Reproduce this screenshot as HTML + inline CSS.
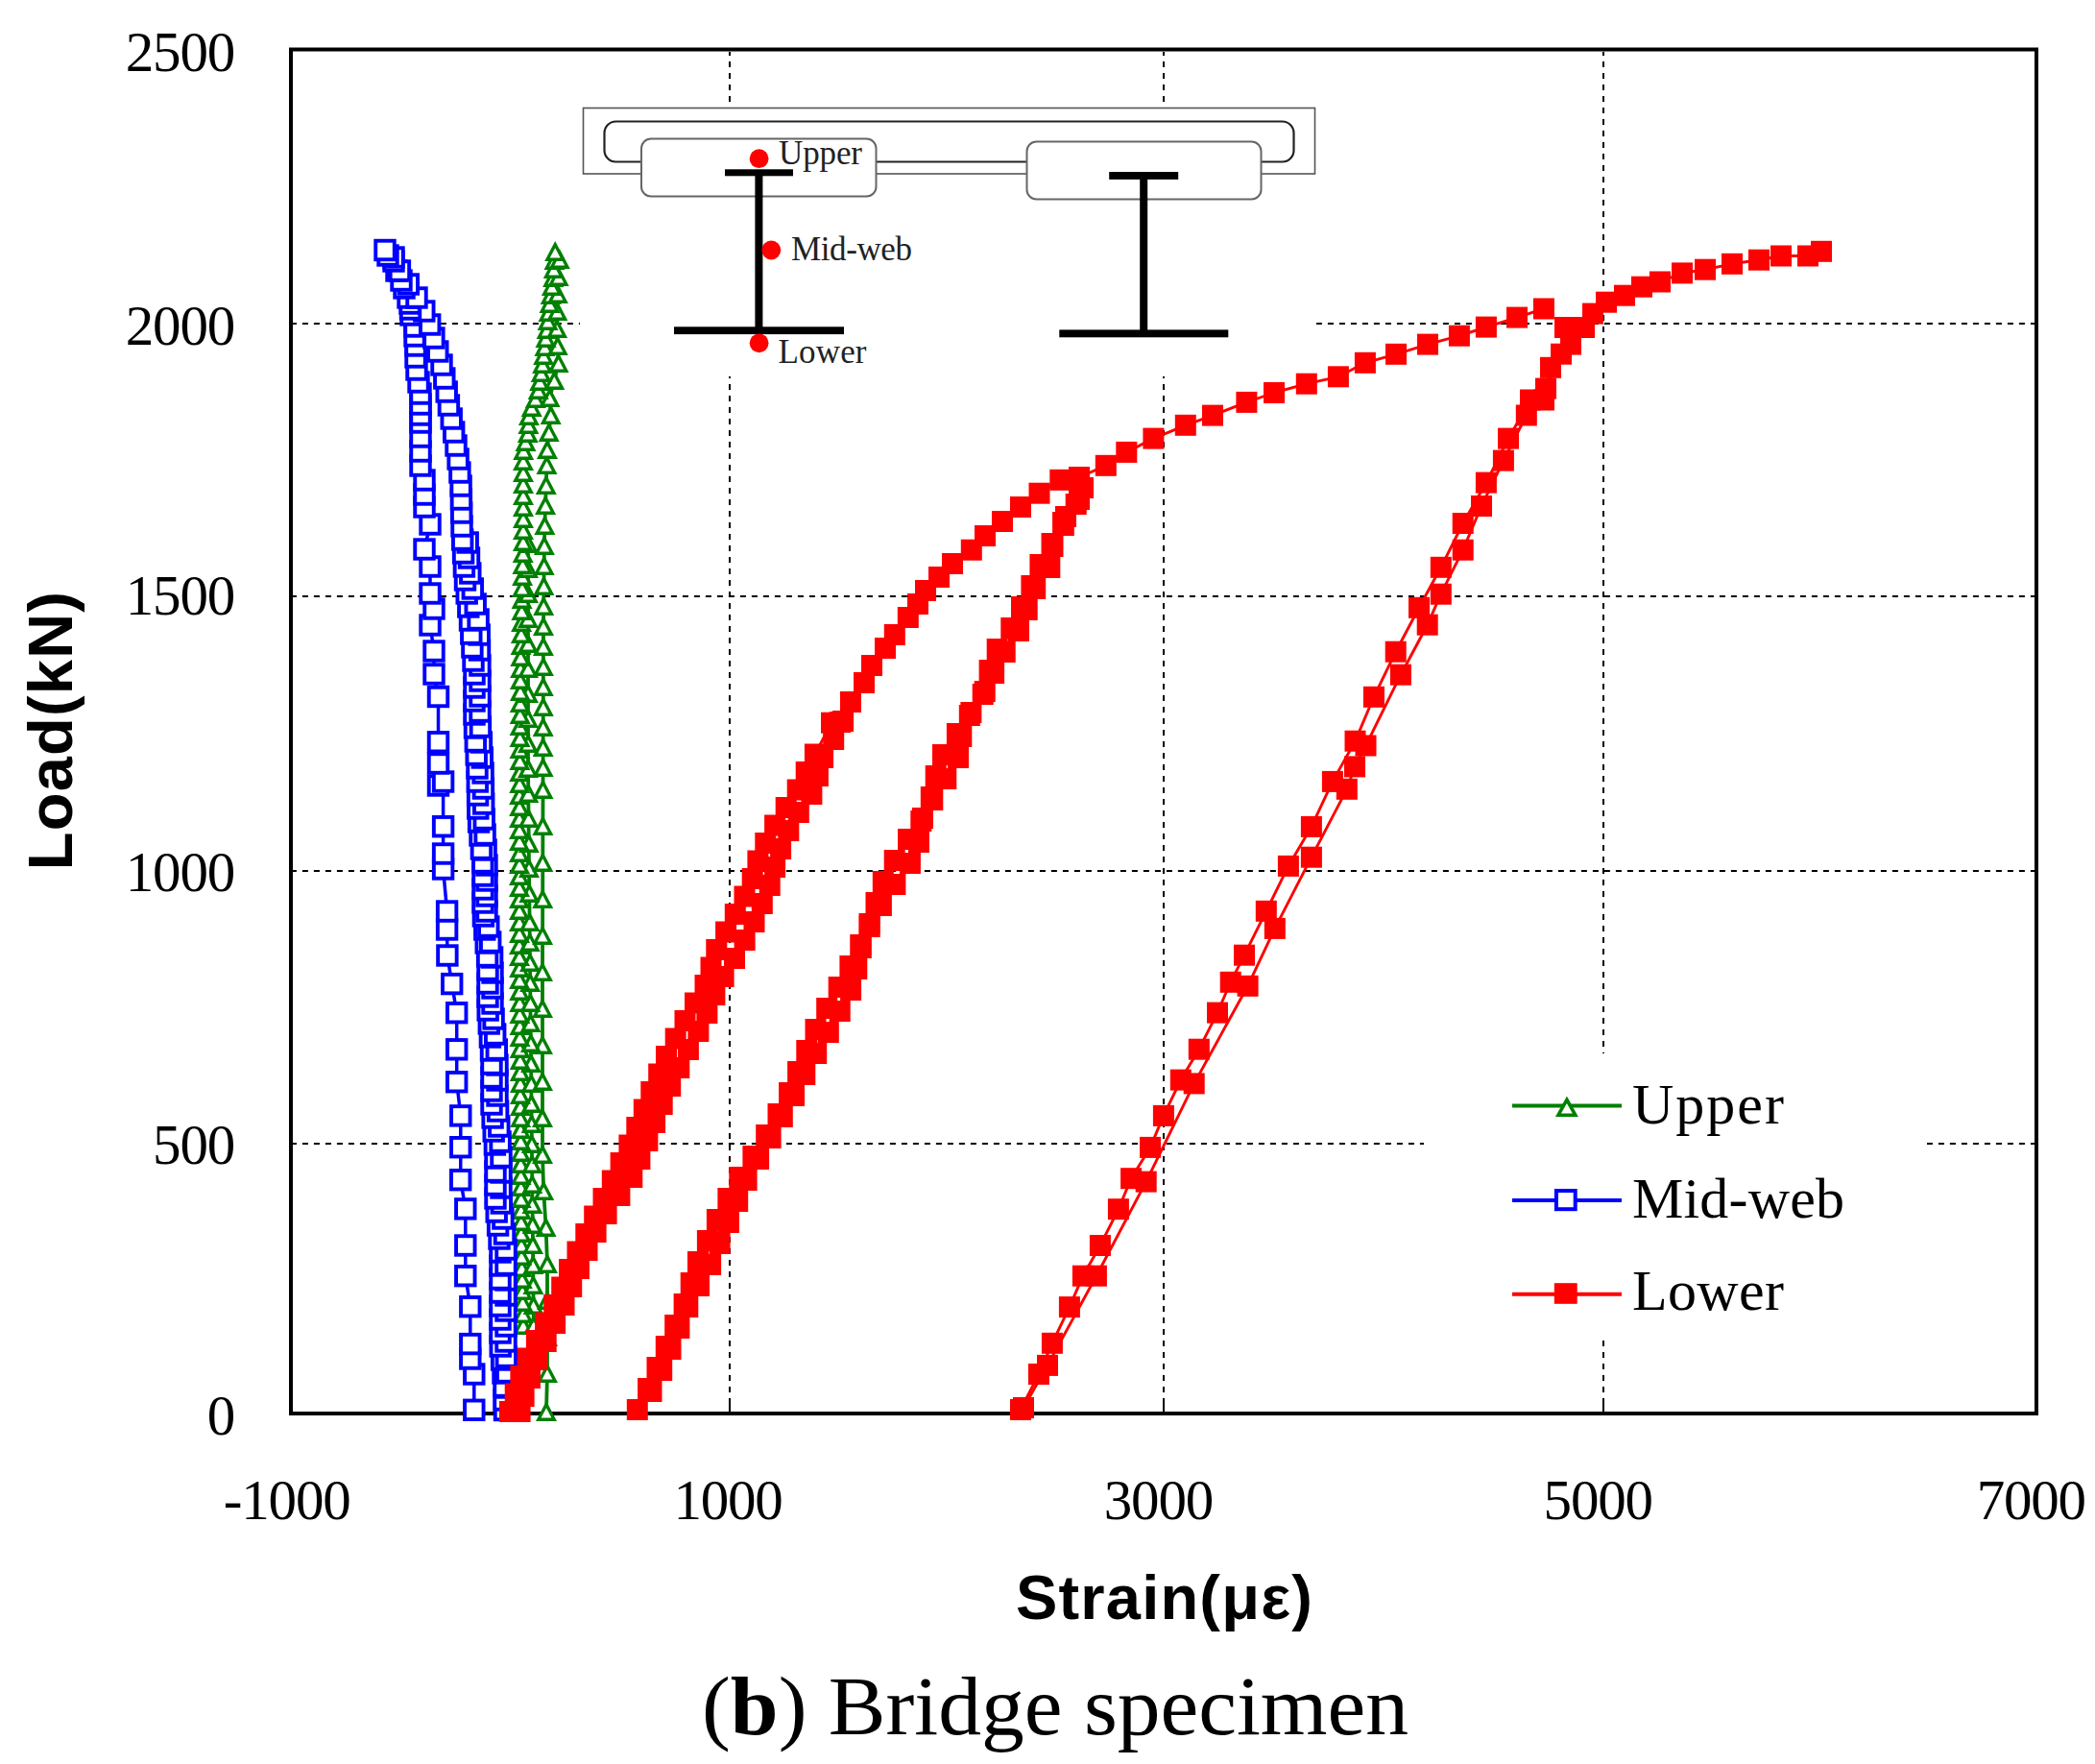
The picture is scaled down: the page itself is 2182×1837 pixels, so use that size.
<!DOCTYPE html><html><head><meta charset="utf-8"><title>Bridge specimen strain</title>
<style>html,body{margin:0;padding:0;background:#fff;overflow:hidden;}svg{display:block;}.ser{font-family:"Liberation Serif","Times New Roman",serif;}.sans{font-family:"Liberation Sans",Arial,sans-serif;font-weight:bold;}</style></head><body>
<svg width="2182" height="1837" viewBox="0 0 2182 1837">
<rect x="0" y="0" width="2182" height="1837" fill="#fff"/>
<g stroke="#000" stroke-width="2" stroke-dasharray="6 6" stroke-dashoffset="2.1" fill="none">
<line x1="760" y1="54" x2="760" y2="1470"/>
<line x1="1212" y1="54" x2="1212" y2="1470"/>
<line x1="1670" y1="54" x2="1670" y2="1470"/>
<line x1="305" y1="337" x2="2119" y2="337"/>
<line x1="305" y1="621" x2="2119" y2="621"/>
<line x1="305" y1="907" x2="2119" y2="907"/>
<line x1="305" y1="1191" x2="2119" y2="1191"/>
</g>
<g stroke="#000" stroke-width="2">
<line x1="760" y1="1456" x2="760" y2="1471"/>
<line x1="1212" y1="1456" x2="1212" y2="1471"/>
<line x1="1670" y1="1456" x2="1670" y2="1471"/>
</g>
<rect x="604" y="112" width="767" height="280" fill="#fff"/>
<rect x="1483" y="1097" width="524" height="299" fill="#fff"/>
<defs><rect id="bs" x="-9.75" y="-9.75" width="19.5" height="19.5" fill="#fff" stroke="#0000ff" stroke-width="3.9"/><g id="gt"><path d="M0 -11L-11 10H11Z" fill="#008000"/><path d="M0 -3.7L-5.4 6.6H5.4Z" fill="#fff"/></g><clipPath id="pc"><rect x="305" y="53.5" width="1814" height="1416.5"/></clipPath></defs>
<rect x="303" y="51.5" width="1818" height="1420.5" fill="none" stroke="#000" stroke-width="4"/>
<g>
<polyline points="578.2,262 577.5,271 576.8,280 576.1,289 574.9,298 573.7,307 572.5,316 571.5,325 570.6,334 569.6,343 568.5,352 567.4,361 566.2,370 565.1,379 563.7,388 562.2,397 560.7,406 557.8,415 553.7,424 550.9,433 550.4,442 549.8,451 547.5,460 545.2,469 545,480 545,492 545,504 545,516 545,528 545,540 545,552 544.9,564 544.7,576 544.4,588 544.1,600 543.9,612 543.6,624 543.4,636 543.1,648 542.9,660 542.6,672 542.3,684 542.1,696 541.9,708 541.9,720 541.8,732 541.7,744 541.6,756 541.5,768 541.5,780 541.4,792 541.3,804 541.2,816 541.1,828 541.1,840 541,852 541,864 541,876 541,888 541,900 541,912 541,924 541,936 541,948 541,960 541,972 541,984 541,996 541.1,1008 541.1,1020 541.2,1032 541.3,1044 541.4,1056 541.5,1068 541.5,1080 541.6,1092 541.7,1104 541.8,1116 541.9,1128 541.9,1140 542,1152 542.1,1164 542.2,1176 542.3,1188 542.3,1200 542.4,1212 542.5,1224 542.6,1236 542.7,1248 542.7,1260 542.8,1272 542.9,1284 543,1296 543.2,1308 543.5,1320 543.8,1332 544.1,1344 544.4,1356 544.7,1368 545,1380" fill="none" stroke="#008000" stroke-width="3.8" stroke-linejoin="round"/>
<polyline points="582.8,270 581.7,288 580.9,306 580.4,324 580.1,342 580.8,360 581.6,378 577.3,396 572.6,414 573.7,432 571.7,450 570,468 569.5,484 568.8,505 568.1,526 567.4,547 566.9,568 566.7,589 566.4,610 566.2,631 566,652 565.9,673 565.9,694 565.8,715 565.8,736 565.7,757 565.6,778 565.6,799 565.5,822 565.4,860 565.3,898 565.2,936 565.1,974 565,1012 565,1050 565,1088 565,1126 565,1164 565,1202 566.2,1240 568.6,1278 570,1316 570,1354 570,1392 570,1430 569,1470" fill="none" stroke="#008000" stroke-width="3.8" stroke-linejoin="round"/>
<polyline points="550,566 550,592 550,618 550,644 550,670 550,696 550,722 550,748 550,774 550,800 550.3,826 550.5,852 550.8,878 551,904 551.3,930 551.6,960 551.8,981 552,1002 552.2,1023 552.4,1044 552.6,1065 552.9,1086 553.1,1107 553.3,1128 553.5,1149 553.7,1170 553.9,1191 554.1,1212 554.3,1233 554.5,1254 554.8,1275 555,1296 555.2,1317 555.4,1338 555.6,1359 555.8,1380" fill="none" stroke="#008000" stroke-width="3.8" stroke-linejoin="round"/>
<use href="#gt" x="569" y="1470"/>
<use href="#gt" x="570" y="1430"/>
<use href="#gt" x="570" y="1392"/>
<use href="#gt" x="545" y="1380"/>
<use href="#gt" x="555.8" y="1380"/>
<use href="#gt" x="544.7" y="1368"/>
<use href="#gt" x="555.6" y="1359"/>
<use href="#gt" x="544.4" y="1356"/>
<use href="#gt" x="570" y="1354"/>
<use href="#gt" x="544.1" y="1344"/>
<use href="#gt" x="555.4" y="1338"/>
<use href="#gt" x="543.8" y="1332"/>
<use href="#gt" x="543.5" y="1320"/>
<use href="#gt" x="555.2" y="1317"/>
<use href="#gt" x="570" y="1316"/>
<use href="#gt" x="543.2" y="1308"/>
<use href="#gt" x="543" y="1296"/>
<use href="#gt" x="555" y="1296"/>
<use href="#gt" x="542.9" y="1284"/>
<use href="#gt" x="568.6" y="1278"/>
<use href="#gt" x="554.8" y="1275"/>
<use href="#gt" x="542.8" y="1272"/>
<use href="#gt" x="542.7" y="1260"/>
<use href="#gt" x="554.5" y="1254"/>
<use href="#gt" x="542.7" y="1248"/>
<use href="#gt" x="566.2" y="1240"/>
<use href="#gt" x="542.6" y="1236"/>
<use href="#gt" x="554.3" y="1233"/>
<use href="#gt" x="542.5" y="1224"/>
<use href="#gt" x="542.4" y="1212"/>
<use href="#gt" x="554.1" y="1212"/>
<use href="#gt" x="565" y="1202"/>
<use href="#gt" x="542.3" y="1200"/>
<use href="#gt" x="553.9" y="1191"/>
<use href="#gt" x="542.3" y="1188"/>
<use href="#gt" x="542.2" y="1176"/>
<use href="#gt" x="553.7" y="1170"/>
<use href="#gt" x="542.1" y="1164"/>
<use href="#gt" x="565" y="1164"/>
<use href="#gt" x="542" y="1152"/>
<use href="#gt" x="553.5" y="1149"/>
<use href="#gt" x="541.9" y="1140"/>
<use href="#gt" x="541.9" y="1128"/>
<use href="#gt" x="553.3" y="1128"/>
<use href="#gt" x="565" y="1126"/>
<use href="#gt" x="541.8" y="1116"/>
<use href="#gt" x="553.1" y="1107"/>
<use href="#gt" x="541.7" y="1104"/>
<use href="#gt" x="541.6" y="1092"/>
<use href="#gt" x="565" y="1088"/>
<use href="#gt" x="552.9" y="1086"/>
<use href="#gt" x="541.5" y="1080"/>
<use href="#gt" x="541.5" y="1068"/>
<use href="#gt" x="552.6" y="1065"/>
<use href="#gt" x="541.4" y="1056"/>
<use href="#gt" x="565" y="1050"/>
<use href="#gt" x="541.3" y="1044"/>
<use href="#gt" x="552.4" y="1044"/>
<use href="#gt" x="541.2" y="1032"/>
<use href="#gt" x="552.2" y="1023"/>
<use href="#gt" x="541.1" y="1020"/>
<use href="#gt" x="565" y="1012"/>
<use href="#gt" x="541.1" y="1008"/>
<use href="#gt" x="552" y="1002"/>
<use href="#gt" x="541" y="996"/>
<use href="#gt" x="541" y="984"/>
<use href="#gt" x="551.8" y="981"/>
<use href="#gt" x="565.1" y="974"/>
<use href="#gt" x="541" y="972"/>
<use href="#gt" x="541" y="960"/>
<use href="#gt" x="551.6" y="960"/>
<use href="#gt" x="541" y="948"/>
<use href="#gt" x="541" y="936"/>
<use href="#gt" x="565.2" y="936"/>
<use href="#gt" x="551.3" y="930"/>
<use href="#gt" x="541" y="924"/>
<use href="#gt" x="541" y="912"/>
<use href="#gt" x="551" y="904"/>
<use href="#gt" x="541" y="900"/>
<use href="#gt" x="565.3" y="898"/>
<use href="#gt" x="541" y="888"/>
<use href="#gt" x="550.8" y="878"/>
<use href="#gt" x="541" y="876"/>
<use href="#gt" x="541" y="864"/>
<use href="#gt" x="565.4" y="860"/>
<use href="#gt" x="541" y="852"/>
<use href="#gt" x="550.5" y="852"/>
<use href="#gt" x="541.1" y="840"/>
<use href="#gt" x="541.1" y="828"/>
<use href="#gt" x="550.3" y="826"/>
<use href="#gt" x="565.5" y="822"/>
<use href="#gt" x="541.2" y="816"/>
<use href="#gt" x="541.3" y="804"/>
<use href="#gt" x="550" y="800"/>
<use href="#gt" x="565.6" y="799"/>
<use href="#gt" x="541.4" y="792"/>
<use href="#gt" x="541.5" y="780"/>
<use href="#gt" x="565.6" y="778"/>
<use href="#gt" x="550" y="774"/>
<use href="#gt" x="541.5" y="768"/>
<use href="#gt" x="565.7" y="757"/>
<use href="#gt" x="541.6" y="756"/>
<use href="#gt" x="550" y="748"/>
<use href="#gt" x="541.7" y="744"/>
<use href="#gt" x="565.8" y="736"/>
<use href="#gt" x="541.8" y="732"/>
<use href="#gt" x="550" y="722"/>
<use href="#gt" x="541.9" y="720"/>
<use href="#gt" x="565.8" y="715"/>
<use href="#gt" x="541.9" y="708"/>
<use href="#gt" x="542.1" y="696"/>
<use href="#gt" x="550" y="696"/>
<use href="#gt" x="565.9" y="694"/>
<use href="#gt" x="542.3" y="684"/>
<use href="#gt" x="565.9" y="673"/>
<use href="#gt" x="542.6" y="672"/>
<use href="#gt" x="550" y="670"/>
<use href="#gt" x="542.9" y="660"/>
<use href="#gt" x="566" y="652"/>
<use href="#gt" x="543.1" y="648"/>
<use href="#gt" x="550" y="644"/>
<use href="#gt" x="543.4" y="636"/>
<use href="#gt" x="566.2" y="631"/>
<use href="#gt" x="543.6" y="624"/>
<use href="#gt" x="550" y="618"/>
<use href="#gt" x="543.9" y="612"/>
<use href="#gt" x="566.4" y="610"/>
<use href="#gt" x="544.1" y="600"/>
<use href="#gt" x="550" y="592"/>
<use href="#gt" x="566.7" y="589"/>
<use href="#gt" x="544.4" y="588"/>
<use href="#gt" x="544.7" y="576"/>
<use href="#gt" x="566.9" y="568"/>
<use href="#gt" x="550" y="566"/>
<use href="#gt" x="544.9" y="564"/>
<use href="#gt" x="545" y="552"/>
<use href="#gt" x="567.4" y="547"/>
<use href="#gt" x="545" y="540"/>
<use href="#gt" x="545" y="528"/>
<use href="#gt" x="568.1" y="526"/>
<use href="#gt" x="545" y="516"/>
<use href="#gt" x="568.8" y="505"/>
<use href="#gt" x="545" y="504"/>
<use href="#gt" x="545" y="492"/>
<use href="#gt" x="569.5" y="484"/>
<use href="#gt" x="545" y="480"/>
<use href="#gt" x="545.2" y="469"/>
<use href="#gt" x="570" y="468"/>
<use href="#gt" x="547.5" y="460"/>
<use href="#gt" x="549.8" y="451"/>
<use href="#gt" x="571.7" y="450"/>
<use href="#gt" x="550.4" y="442"/>
<use href="#gt" x="550.9" y="433"/>
<use href="#gt" x="573.7" y="432"/>
<use href="#gt" x="553.7" y="424"/>
<use href="#gt" x="557.8" y="415"/>
<use href="#gt" x="572.6" y="414"/>
<use href="#gt" x="560.7" y="406"/>
<use href="#gt" x="562.2" y="397"/>
<use href="#gt" x="577.3" y="396"/>
<use href="#gt" x="563.7" y="388"/>
<use href="#gt" x="565.1" y="379"/>
<use href="#gt" x="581.6" y="378"/>
<use href="#gt" x="566.2" y="370"/>
<use href="#gt" x="567.4" y="361"/>
<use href="#gt" x="580.8" y="360"/>
<use href="#gt" x="568.5" y="352"/>
<use href="#gt" x="569.6" y="343"/>
<use href="#gt" x="580.1" y="342"/>
<use href="#gt" x="570.6" y="334"/>
<use href="#gt" x="571.5" y="325"/>
<use href="#gt" x="580.4" y="324"/>
<use href="#gt" x="572.5" y="316"/>
<use href="#gt" x="573.7" y="307"/>
<use href="#gt" x="580.9" y="306"/>
<use href="#gt" x="574.9" y="298"/>
<use href="#gt" x="576.1" y="289"/>
<use href="#gt" x="581.7" y="288"/>
<use href="#gt" x="576.8" y="280"/>
<use href="#gt" x="577.5" y="271"/>
<use href="#gt" x="582.8" y="270"/>
<use href="#gt" x="578.2" y="262"/>
<polyline points="401,260.5 404,266 410,272 413,282 418,292 421,300 425,310 427,316 427.5,322 428,328 432,340 432,350 433,360 433,372 434,385 436,398 438,410 438,421 438,432 438,440 438,455 438,470 438,485 442,500 442,515 442,528 448,546 442,572 448,590 448,618 452,634 448,651 452,678 452,702 456.5,725.5 456.5,772.7 456.5,795 456.5,818 461.6,814 461.6,860.7 461.6,889 461.6,905 465.6,949 465.6,968 465.9,995 470.7,1024.6 475.7,1054.7 475.7,1092.8 475.7,1126.7 479.8,1161.9 479.8,1194.7 479.7,1228.7 484.8,1258.9 484.8,1297 484.8,1328.7 489.8,1360.7 489.8,1399.6 489.8,1415 493.8,1431 493.8,1468.3" fill="none" stroke="#0000ff" stroke-width="3.5" stroke-linejoin="round"/>
<polyline points="410,268 416.4,282 425.3,296 434,310 441.8,324 447.7,338 451.9,352 455.8,366 460,380 462.8,394 465.2,408 467.4,422 470.2,436 472.7,450 475,464 477.1,478 478.9,492 480.1,506 480.4,520 480.7,534 481,548 481.7,562 482.6,576 483.4,590 484.5,604 486.2,618 487.8,632 489.5,646 490.8,660 491.9,674 493,688 494,702 494,716 494,730 494,744 494.5,758 495.3,772 496.2,786 497,800 497.3,814 497.6,828 497.8,842 498.6,856 500,870 501.4,884 502.8,898 503,912 503,926 503,940 503.4,954 504.8,968 506.2,982 507.6,996 508,1010 508,1024 508,1038 508.2,1052 509.3,1066 510.4,1080 511.5,1094 512,1108 512,1122 512,1136 512,1150 513.1,1164 514.2,1178 515.4,1192 516,1206 516,1220 516,1234 516,1248 517.2,1262 518.6,1276 520,1290 521,1304 521,1318 521,1332 521,1346 521,1360 521,1374 521,1388 521.2,1402 522.6,1416 524,1430 525,1444 525,1458 525.5,1468.5" fill="none" stroke="#0000ff" stroke-width="3.5" stroke-linejoin="round"/>
<polyline points="487.2,565 488.5,581 489.8,597 492.3,613 495.2,629 498.1,645 499.2,661 499.5,677 499.9,693 500,709 500,725 500,741 500.4,757 501.4,773 502.3,789 503.1,805 503.4,821 503.7,837 504.2,853 505.1,869 506.1,885 507,901 507,917 507,933 507,949 508.8,965 510.7,981 512.6,997 513,1013 513,1029 513,1045 514.1,1061 515.7,1077 517.3,1093 518,1109 518,1125 518,1141 518.6,1157 519.8,1173 521.1,1189 522,1205 522,1221 522,1237 522.3,1253 523.9,1269 525.5,1285 527,1301 527,1317 527,1333 527,1349 527,1365 527,1381 527,1397 527.3,1413 527.7,1429 528,1445" fill="none" stroke="#0000ff" stroke-width="3.5" stroke-linejoin="round"/>
<use href="#bs" x="525.5" y="1468.5"/>
<use href="#bs" x="493.8" y="1468.3"/>
<use href="#bs" x="525" y="1458"/>
<use href="#bs" x="528" y="1445"/>
<use href="#bs" x="525" y="1444"/>
<use href="#bs" x="493.8" y="1431"/>
<use href="#bs" x="524" y="1430"/>
<use href="#bs" x="527.7" y="1429"/>
<use href="#bs" x="522.6" y="1416"/>
<use href="#bs" x="489.8" y="1415"/>
<use href="#bs" x="527.3" y="1413"/>
<use href="#bs" x="521.2" y="1402"/>
<use href="#bs" x="489.8" y="1399.6"/>
<use href="#bs" x="527" y="1397"/>
<use href="#bs" x="521" y="1388"/>
<use href="#bs" x="527" y="1381"/>
<use href="#bs" x="521" y="1374"/>
<use href="#bs" x="527" y="1365"/>
<use href="#bs" x="489.8" y="1360.7"/>
<use href="#bs" x="521" y="1360"/>
<use href="#bs" x="527" y="1349"/>
<use href="#bs" x="521" y="1346"/>
<use href="#bs" x="527" y="1333"/>
<use href="#bs" x="521" y="1332"/>
<use href="#bs" x="484.8" y="1328.7"/>
<use href="#bs" x="521" y="1318"/>
<use href="#bs" x="527" y="1317"/>
<use href="#bs" x="521" y="1304"/>
<use href="#bs" x="527" y="1301"/>
<use href="#bs" x="484.8" y="1297"/>
<use href="#bs" x="520" y="1290"/>
<use href="#bs" x="525.5" y="1285"/>
<use href="#bs" x="518.6" y="1276"/>
<use href="#bs" x="523.9" y="1269"/>
<use href="#bs" x="517.2" y="1262"/>
<use href="#bs" x="484.8" y="1258.9"/>
<use href="#bs" x="522.3" y="1253"/>
<use href="#bs" x="516" y="1248"/>
<use href="#bs" x="522" y="1237"/>
<use href="#bs" x="516" y="1234"/>
<use href="#bs" x="479.7" y="1228.7"/>
<use href="#bs" x="522" y="1221"/>
<use href="#bs" x="516" y="1220"/>
<use href="#bs" x="516" y="1206"/>
<use href="#bs" x="522" y="1205"/>
<use href="#bs" x="479.8" y="1194.7"/>
<use href="#bs" x="515.4" y="1192"/>
<use href="#bs" x="521.1" y="1189"/>
<use href="#bs" x="514.2" y="1178"/>
<use href="#bs" x="519.8" y="1173"/>
<use href="#bs" x="513.1" y="1164"/>
<use href="#bs" x="479.8" y="1161.9"/>
<use href="#bs" x="518.6" y="1157"/>
<use href="#bs" x="512" y="1150"/>
<use href="#bs" x="518" y="1141"/>
<use href="#bs" x="512" y="1136"/>
<use href="#bs" x="475.7" y="1126.7"/>
<use href="#bs" x="518" y="1125"/>
<use href="#bs" x="512" y="1122"/>
<use href="#bs" x="518" y="1109"/>
<use href="#bs" x="512" y="1108"/>
<use href="#bs" x="511.5" y="1094"/>
<use href="#bs" x="517.3" y="1093"/>
<use href="#bs" x="475.7" y="1092.8"/>
<use href="#bs" x="510.4" y="1080"/>
<use href="#bs" x="515.7" y="1077"/>
<use href="#bs" x="509.3" y="1066"/>
<use href="#bs" x="514.1" y="1061"/>
<use href="#bs" x="475.7" y="1054.7"/>
<use href="#bs" x="508.2" y="1052"/>
<use href="#bs" x="513" y="1045"/>
<use href="#bs" x="508" y="1038"/>
<use href="#bs" x="513" y="1029"/>
<use href="#bs" x="470.7" y="1024.6"/>
<use href="#bs" x="508" y="1024"/>
<use href="#bs" x="513" y="1013"/>
<use href="#bs" x="508" y="1010"/>
<use href="#bs" x="512.6" y="997"/>
<use href="#bs" x="507.6" y="996"/>
<use href="#bs" x="465.9" y="995"/>
<use href="#bs" x="506.2" y="982"/>
<use href="#bs" x="510.7" y="981"/>
<use href="#bs" x="465.6" y="968"/>
<use href="#bs" x="504.8" y="968"/>
<use href="#bs" x="508.8" y="965"/>
<use href="#bs" x="503.4" y="954"/>
<use href="#bs" x="465.6" y="949"/>
<use href="#bs" x="507" y="949"/>
<use href="#bs" x="503" y="940"/>
<use href="#bs" x="507" y="933"/>
<use href="#bs" x="503" y="926"/>
<use href="#bs" x="507" y="917"/>
<use href="#bs" x="503" y="912"/>
<use href="#bs" x="461.6" y="905"/>
<use href="#bs" x="507" y="901"/>
<use href="#bs" x="502.8" y="898"/>
<use href="#bs" x="461.6" y="889"/>
<use href="#bs" x="506.1" y="885"/>
<use href="#bs" x="501.4" y="884"/>
<use href="#bs" x="500" y="870"/>
<use href="#bs" x="505.1" y="869"/>
<use href="#bs" x="461.6" y="860.7"/>
<use href="#bs" x="498.6" y="856"/>
<use href="#bs" x="504.2" y="853"/>
<use href="#bs" x="497.8" y="842"/>
<use href="#bs" x="503.7" y="837"/>
<use href="#bs" x="497.6" y="828"/>
<use href="#bs" x="503.4" y="821"/>
<use href="#bs" x="456.5" y="818"/>
<use href="#bs" x="461.6" y="814"/>
<use href="#bs" x="497.3" y="814"/>
<use href="#bs" x="503.1" y="805"/>
<use href="#bs" x="497" y="800"/>
<use href="#bs" x="456.5" y="795"/>
<use href="#bs" x="502.3" y="789"/>
<use href="#bs" x="496.2" y="786"/>
<use href="#bs" x="501.4" y="773"/>
<use href="#bs" x="456.5" y="772.7"/>
<use href="#bs" x="495.3" y="772"/>
<use href="#bs" x="494.5" y="758"/>
<use href="#bs" x="500.4" y="757"/>
<use href="#bs" x="494" y="744"/>
<use href="#bs" x="500" y="741"/>
<use href="#bs" x="494" y="730"/>
<use href="#bs" x="456.5" y="725.5"/>
<use href="#bs" x="500" y="725"/>
<use href="#bs" x="494" y="716"/>
<use href="#bs" x="500" y="709"/>
<use href="#bs" x="452" y="702"/>
<use href="#bs" x="494" y="702"/>
<use href="#bs" x="499.9" y="693"/>
<use href="#bs" x="493" y="688"/>
<use href="#bs" x="452" y="678"/>
<use href="#bs" x="499.5" y="677"/>
<use href="#bs" x="491.9" y="674"/>
<use href="#bs" x="499.2" y="661"/>
<use href="#bs" x="490.8" y="660"/>
<use href="#bs" x="448" y="651"/>
<use href="#bs" x="489.5" y="646"/>
<use href="#bs" x="498.1" y="645"/>
<use href="#bs" x="452" y="634"/>
<use href="#bs" x="487.8" y="632"/>
<use href="#bs" x="495.2" y="629"/>
<use href="#bs" x="448" y="618"/>
<use href="#bs" x="486.2" y="618"/>
<use href="#bs" x="492.3" y="613"/>
<use href="#bs" x="484.5" y="604"/>
<use href="#bs" x="489.8" y="597"/>
<use href="#bs" x="448" y="590"/>
<use href="#bs" x="483.4" y="590"/>
<use href="#bs" x="488.5" y="581"/>
<use href="#bs" x="482.6" y="576"/>
<use href="#bs" x="442" y="572"/>
<use href="#bs" x="487.2" y="565"/>
<use href="#bs" x="481.7" y="562"/>
<use href="#bs" x="481" y="548"/>
<use href="#bs" x="448" y="546"/>
<use href="#bs" x="480.7" y="534"/>
<use href="#bs" x="442" y="528"/>
<use href="#bs" x="480.4" y="520"/>
<use href="#bs" x="442" y="515"/>
<use href="#bs" x="480.1" y="506"/>
<use href="#bs" x="442" y="500"/>
<use href="#bs" x="478.9" y="492"/>
<use href="#bs" x="438" y="485"/>
<use href="#bs" x="477.1" y="478"/>
<use href="#bs" x="438" y="470"/>
<use href="#bs" x="475" y="464"/>
<use href="#bs" x="438" y="455"/>
<use href="#bs" x="472.7" y="450"/>
<use href="#bs" x="438" y="440"/>
<use href="#bs" x="470.2" y="436"/>
<use href="#bs" x="438" y="432"/>
<use href="#bs" x="467.4" y="422"/>
<use href="#bs" x="438" y="421"/>
<use href="#bs" x="438" y="410"/>
<use href="#bs" x="465.2" y="408"/>
<use href="#bs" x="436" y="398"/>
<use href="#bs" x="462.8" y="394"/>
<use href="#bs" x="434" y="385"/>
<use href="#bs" x="460" y="380"/>
<use href="#bs" x="433" y="372"/>
<use href="#bs" x="455.8" y="366"/>
<use href="#bs" x="433" y="360"/>
<use href="#bs" x="451.9" y="352"/>
<use href="#bs" x="432" y="350"/>
<use href="#bs" x="432" y="340"/>
<use href="#bs" x="447.7" y="338"/>
<use href="#bs" x="428" y="328"/>
<use href="#bs" x="441.8" y="324"/>
<use href="#bs" x="427.5" y="322"/>
<use href="#bs" x="427" y="316"/>
<use href="#bs" x="425" y="310"/>
<use href="#bs" x="434" y="310"/>
<use href="#bs" x="421" y="300"/>
<use href="#bs" x="425.3" y="296"/>
<use href="#bs" x="418" y="292"/>
<use href="#bs" x="413" y="282"/>
<use href="#bs" x="416.4" y="282"/>
<use href="#bs" x="410" y="272"/>
<use href="#bs" x="410" y="268"/>
<use href="#bs" x="404" y="266"/>
<use href="#bs" x="401" y="260.5"/>
<polyline points="531,1470 536.7,1451.5 542.4,1433 549.7,1414.5 558.9,1396 568.1,1377.5 577.3,1359 585.2,1340.5 593,1322 601.5,1303.5 610.3,1285 619.2,1266.5 628.5,1248 637.8,1229.5 646.6,1211 655.4,1192.5 663.3,1174 670.8,1155.5 678.3,1137 686.2,1118.5 694,1100 703.7,1081.5 713.5,1063 724,1044.5 734.5,1026 740.5,1007.5 746.3,989 756.1,970.5 765.8,952 775.5,933.5 783.7,915 789.4,896.5 797.3,878 807.1,859.5 818.7,841 830.7,822.5 839.7,804 848.9,785.5 866,752.7 875,752 886,731 900,711 908,693 922,675 931.8,661 945.8,643 956,629 964,615 978,601 992,587 1011.8,572.7 1026,558 1044,543 1063,528 1082.5,513.7 1104.3,499.8 1124,497" fill="none" stroke="#ff0000" stroke-width="2.9" stroke-linejoin="round"/>
<polyline points="541.6,1470 545.6,1454 551.9,1435 559.3,1416 568.7,1397 578.1,1378 587.5,1359 595.2,1340 602.9,1321 611.5,1302 620.6,1283 631.6,1264 645.4,1245 658.3,1226 666.4,1207 674.4,1188 682.1,1169 689.7,1150 698.2,1131 707.3,1112 716.9,1093 727.4,1074 736.4,1055 744.4,1036 753.6,1017 765,998 775.6,979 785.5,960 793.8,941 801.7,922 807.1,903 813.1,884 821.3,865 831.8,846 845.4,827 851.9,808 857.1,789 868.2,770 878.1,751" fill="none" stroke="#ff0000" stroke-width="2.9" stroke-linejoin="round"/>
<polyline points="663.8,1468 675.1,1446 684.5,1424 693.8,1402 703.2,1380 712.6,1358 719.7,1336 727,1314 736.9,1292 746.9,1270 758.4,1248 770.3,1226 784.4,1204 798.2,1182 810.5,1160 822.1,1138 831.1,1116 840.3,1094 849.5,1072 861.2,1050 873.7,1028 885.4,1006 896.3,984 905.5,962 912.5,940 919.8,918 931.7,896 946,874 961,852 969.8,830 974.7,808 982,786 996.9,764 1011.4,742 1025.7,720 1030.6,698 1038.7,676 1053.3,654 1064,632 1074.4,610 1083.4,588 1095.5,566 1107.1,544 1110,538 1124,520 1128,508 1124,499" fill="none" stroke="#ff0000" stroke-width="2.9" stroke-linejoin="round"/>
<polyline points="678.5,1449 689.2,1427 698.5,1405 707.4,1383 716.3,1361 728,1339 740.1,1317 749.6,1295 758.9,1273 768.2,1251 777.6,1229 790.1,1207 802.6,1185 814.8,1163 827,1141 838.3,1119 850.2,1097 862.8,1075 874.7,1053 886.1,1031 892.3,1009 896.8,987 905.7,965 917.9,943 932.4,921 947.9,899 956.9,877 959.3,855 971.3,833 985.3,811 998,789 1001.3,767 1009.8,745 1023.7,723 1035.1,701 1046.7,679 1061,657 1069.7,635 1078.2,613 1093.3,591 1096.5,569 1107.8,547 1120.7,525" fill="none" stroke="#ff0000" stroke-width="2.9" stroke-linejoin="round"/>
<polyline points="1124,497 1151.8,484.8 1173.3,470.9 1201.4,456.6 1234.8,442.8 1263,432.6 1298.4,418.9 1327,409 1360.8,399.7 1393.9,392.3 1421.9,377.8 1454,368.8 1487,358.6 1519.9,349.7 1547.9,340.6 1580,330.6 1607.9,321.5" fill="none" stroke="#ff0000" stroke-width="2.9" stroke-linejoin="round"/>
<polyline points="1063,1468 1081.9,1431 1095.9,1398.8 1113.9,1361.1 1127.9,1328.7 1145.9,1297 1164.9,1259.2 1178.1,1227.2 1198,1194.9 1211.9,1161.9 1229.8,1124.6 1248.8,1092.7 1268,1054.6 1281.7,1022.8 1296,994.7 1318.8,948.8 1341.9,901.9 1365.9,860.9 1387.9,813.9 1411.5,771.7 1430.9,725.8 1453.7,678.7 1478,632.8 1500.8,590.8 1523.7,545 1547.9,502.6 1571,456.6 1594,416.5 1610,404.6 1626,368.7 1630,341" fill="none" stroke="#ff0000" stroke-width="2.9" stroke-linejoin="round"/>
<polyline points="1066,1466 1091,1421.9 1141.9,1328.7 1193.7,1230.6 1243.7,1128.4 1299.6,1026.8 1327.8,966.9 1365.9,892.7 1402.8,821.8 1411,798.4 1422.5,776.5 1458.9,702.7 1486.7,650.7 1500.8,618.7 1523.7,572.7 1543,527 1565.9,479.6 1589.8,432.5 1608,416.5 1615,382.8 1636,358.6 1650,341" fill="none" stroke="#ff0000" stroke-width="2.9" stroke-linejoin="round"/>
<polyline points="1650,341 1659,326.6 1673,314.7 1692,307.7 1710,298.7 1729,293.5 1752,284.4 1776,280.7 1804,274.8 1832,270.7 1855,266.5 1883,266.5 1897,261.8" fill="none" stroke="#ff0000" stroke-width="2.9" stroke-linejoin="round"/>
<rect x="520" y="1459" width="22" height="22" fill="#ff0000"/>
<rect x="525.7" y="1440.5" width="22" height="22" fill="#ff0000"/>
<rect x="531.4" y="1422" width="22" height="22" fill="#ff0000"/>
<rect x="538.7" y="1403.5" width="22" height="22" fill="#ff0000"/>
<rect x="547.9" y="1385" width="22" height="22" fill="#ff0000"/>
<rect x="557.1" y="1366.5" width="22" height="22" fill="#ff0000"/>
<rect x="566.3" y="1348" width="22" height="22" fill="#ff0000"/>
<rect x="574.2" y="1329.5" width="22" height="22" fill="#ff0000"/>
<rect x="582" y="1311" width="22" height="22" fill="#ff0000"/>
<rect x="590.5" y="1292.5" width="22" height="22" fill="#ff0000"/>
<rect x="599.3" y="1274" width="22" height="22" fill="#ff0000"/>
<rect x="608.2" y="1255.5" width="22" height="22" fill="#ff0000"/>
<rect x="617.5" y="1237" width="22" height="22" fill="#ff0000"/>
<rect x="626.8" y="1218.5" width="22" height="22" fill="#ff0000"/>
<rect x="635.6" y="1200" width="22" height="22" fill="#ff0000"/>
<rect x="644.4" y="1181.5" width="22" height="22" fill="#ff0000"/>
<rect x="652.3" y="1163" width="22" height="22" fill="#ff0000"/>
<rect x="659.8" y="1144.5" width="22" height="22" fill="#ff0000"/>
<rect x="667.3" y="1126" width="22" height="22" fill="#ff0000"/>
<rect x="675.2" y="1107.5" width="22" height="22" fill="#ff0000"/>
<rect x="683" y="1089" width="22" height="22" fill="#ff0000"/>
<rect x="692.7" y="1070.5" width="22" height="22" fill="#ff0000"/>
<rect x="702.5" y="1052" width="22" height="22" fill="#ff0000"/>
<rect x="713" y="1033.5" width="22" height="22" fill="#ff0000"/>
<rect x="723.5" y="1015" width="22" height="22" fill="#ff0000"/>
<rect x="729.5" y="996.5" width="22" height="22" fill="#ff0000"/>
<rect x="735.3" y="978" width="22" height="22" fill="#ff0000"/>
<rect x="745.1" y="959.5" width="22" height="22" fill="#ff0000"/>
<rect x="754.8" y="941" width="22" height="22" fill="#ff0000"/>
<rect x="764.5" y="922.5" width="22" height="22" fill="#ff0000"/>
<rect x="772.7" y="904" width="22" height="22" fill="#ff0000"/>
<rect x="778.4" y="885.5" width="22" height="22" fill="#ff0000"/>
<rect x="786.3" y="867" width="22" height="22" fill="#ff0000"/>
<rect x="796.1" y="848.5" width="22" height="22" fill="#ff0000"/>
<rect x="807.7" y="830" width="22" height="22" fill="#ff0000"/>
<rect x="819.7" y="811.5" width="22" height="22" fill="#ff0000"/>
<rect x="828.7" y="793" width="22" height="22" fill="#ff0000"/>
<rect x="837.9" y="774.5" width="22" height="22" fill="#ff0000"/>
<rect x="855" y="741.7" width="22" height="22" fill="#ff0000"/>
<rect x="864" y="741" width="22" height="22" fill="#ff0000"/>
<rect x="875" y="720" width="22" height="22" fill="#ff0000"/>
<rect x="889" y="700" width="22" height="22" fill="#ff0000"/>
<rect x="897" y="682" width="22" height="22" fill="#ff0000"/>
<rect x="911" y="664" width="22" height="22" fill="#ff0000"/>
<rect x="920.8" y="650" width="22" height="22" fill="#ff0000"/>
<rect x="934.8" y="632" width="22" height="22" fill="#ff0000"/>
<rect x="945" y="618" width="22" height="22" fill="#ff0000"/>
<rect x="953" y="604" width="22" height="22" fill="#ff0000"/>
<rect x="967" y="590" width="22" height="22" fill="#ff0000"/>
<rect x="981" y="576" width="22" height="22" fill="#ff0000"/>
<rect x="1000.8" y="561.7" width="22" height="22" fill="#ff0000"/>
<rect x="1015" y="547" width="22" height="22" fill="#ff0000"/>
<rect x="1033" y="532" width="22" height="22" fill="#ff0000"/>
<rect x="1052" y="517" width="22" height="22" fill="#ff0000"/>
<rect x="1071.5" y="502.7" width="22" height="22" fill="#ff0000"/>
<rect x="1093.3" y="488.8" width="22" height="22" fill="#ff0000"/>
<rect x="1113" y="486" width="22" height="22" fill="#ff0000"/>
<rect x="530.6" y="1459" width="22" height="22" fill="#ff0000"/>
<rect x="534.6" y="1443" width="22" height="22" fill="#ff0000"/>
<rect x="540.9" y="1424" width="22" height="22" fill="#ff0000"/>
<rect x="548.3" y="1405" width="22" height="22" fill="#ff0000"/>
<rect x="557.7" y="1386" width="22" height="22" fill="#ff0000"/>
<rect x="567.1" y="1367" width="22" height="22" fill="#ff0000"/>
<rect x="576.5" y="1348" width="22" height="22" fill="#ff0000"/>
<rect x="584.2" y="1329" width="22" height="22" fill="#ff0000"/>
<rect x="591.9" y="1310" width="22" height="22" fill="#ff0000"/>
<rect x="600.5" y="1291" width="22" height="22" fill="#ff0000"/>
<rect x="609.6" y="1272" width="22" height="22" fill="#ff0000"/>
<rect x="620.6" y="1253" width="22" height="22" fill="#ff0000"/>
<rect x="634.4" y="1234" width="22" height="22" fill="#ff0000"/>
<rect x="647.3" y="1215" width="22" height="22" fill="#ff0000"/>
<rect x="655.4" y="1196" width="22" height="22" fill="#ff0000"/>
<rect x="663.4" y="1177" width="22" height="22" fill="#ff0000"/>
<rect x="671.1" y="1158" width="22" height="22" fill="#ff0000"/>
<rect x="678.7" y="1139" width="22" height="22" fill="#ff0000"/>
<rect x="687.2" y="1120" width="22" height="22" fill="#ff0000"/>
<rect x="696.3" y="1101" width="22" height="22" fill="#ff0000"/>
<rect x="705.9" y="1082" width="22" height="22" fill="#ff0000"/>
<rect x="716.4" y="1063" width="22" height="22" fill="#ff0000"/>
<rect x="725.4" y="1044" width="22" height="22" fill="#ff0000"/>
<rect x="733.4" y="1025" width="22" height="22" fill="#ff0000"/>
<rect x="742.6" y="1006" width="22" height="22" fill="#ff0000"/>
<rect x="754" y="987" width="22" height="22" fill="#ff0000"/>
<rect x="764.6" y="968" width="22" height="22" fill="#ff0000"/>
<rect x="774.5" y="949" width="22" height="22" fill="#ff0000"/>
<rect x="782.8" y="930" width="22" height="22" fill="#ff0000"/>
<rect x="790.7" y="911" width="22" height="22" fill="#ff0000"/>
<rect x="796.1" y="892" width="22" height="22" fill="#ff0000"/>
<rect x="802.1" y="873" width="22" height="22" fill="#ff0000"/>
<rect x="810.3" y="854" width="22" height="22" fill="#ff0000"/>
<rect x="820.8" y="835" width="22" height="22" fill="#ff0000"/>
<rect x="834.4" y="816" width="22" height="22" fill="#ff0000"/>
<rect x="840.9" y="797" width="22" height="22" fill="#ff0000"/>
<rect x="846.1" y="778" width="22" height="22" fill="#ff0000"/>
<rect x="857.2" y="759" width="22" height="22" fill="#ff0000"/>
<rect x="867.1" y="740" width="22" height="22" fill="#ff0000"/>
<rect x="652.8" y="1457" width="22" height="22" fill="#ff0000"/>
<rect x="664.1" y="1435" width="22" height="22" fill="#ff0000"/>
<rect x="673.5" y="1413" width="22" height="22" fill="#ff0000"/>
<rect x="682.8" y="1391" width="22" height="22" fill="#ff0000"/>
<rect x="692.2" y="1369" width="22" height="22" fill="#ff0000"/>
<rect x="701.6" y="1347" width="22" height="22" fill="#ff0000"/>
<rect x="708.7" y="1325" width="22" height="22" fill="#ff0000"/>
<rect x="716" y="1303" width="22" height="22" fill="#ff0000"/>
<rect x="725.9" y="1281" width="22" height="22" fill="#ff0000"/>
<rect x="735.9" y="1259" width="22" height="22" fill="#ff0000"/>
<rect x="747.4" y="1237" width="22" height="22" fill="#ff0000"/>
<rect x="759.3" y="1215" width="22" height="22" fill="#ff0000"/>
<rect x="773.4" y="1193" width="22" height="22" fill="#ff0000"/>
<rect x="787.2" y="1171" width="22" height="22" fill="#ff0000"/>
<rect x="799.5" y="1149" width="22" height="22" fill="#ff0000"/>
<rect x="811.1" y="1127" width="22" height="22" fill="#ff0000"/>
<rect x="820.1" y="1105" width="22" height="22" fill="#ff0000"/>
<rect x="829.3" y="1083" width="22" height="22" fill="#ff0000"/>
<rect x="838.5" y="1061" width="22" height="22" fill="#ff0000"/>
<rect x="850.2" y="1039" width="22" height="22" fill="#ff0000"/>
<rect x="862.7" y="1017" width="22" height="22" fill="#ff0000"/>
<rect x="874.4" y="995" width="22" height="22" fill="#ff0000"/>
<rect x="885.3" y="973" width="22" height="22" fill="#ff0000"/>
<rect x="894.5" y="951" width="22" height="22" fill="#ff0000"/>
<rect x="901.5" y="929" width="22" height="22" fill="#ff0000"/>
<rect x="908.8" y="907" width="22" height="22" fill="#ff0000"/>
<rect x="920.7" y="885" width="22" height="22" fill="#ff0000"/>
<rect x="935" y="863" width="22" height="22" fill="#ff0000"/>
<rect x="950" y="841" width="22" height="22" fill="#ff0000"/>
<rect x="958.8" y="819" width="22" height="22" fill="#ff0000"/>
<rect x="963.7" y="797" width="22" height="22" fill="#ff0000"/>
<rect x="971" y="775" width="22" height="22" fill="#ff0000"/>
<rect x="985.9" y="753" width="22" height="22" fill="#ff0000"/>
<rect x="1000.4" y="731" width="22" height="22" fill="#ff0000"/>
<rect x="1014.7" y="709" width="22" height="22" fill="#ff0000"/>
<rect x="1019.6" y="687" width="22" height="22" fill="#ff0000"/>
<rect x="1027.7" y="665" width="22" height="22" fill="#ff0000"/>
<rect x="1042.3" y="643" width="22" height="22" fill="#ff0000"/>
<rect x="1053" y="621" width="22" height="22" fill="#ff0000"/>
<rect x="1063.4" y="599" width="22" height="22" fill="#ff0000"/>
<rect x="1072.4" y="577" width="22" height="22" fill="#ff0000"/>
<rect x="1084.5" y="555" width="22" height="22" fill="#ff0000"/>
<rect x="1096.1" y="533" width="22" height="22" fill="#ff0000"/>
<rect x="1099" y="527" width="22" height="22" fill="#ff0000"/>
<rect x="1113" y="509" width="22" height="22" fill="#ff0000"/>
<rect x="1117" y="497" width="22" height="22" fill="#ff0000"/>
<rect x="1113" y="488" width="22" height="22" fill="#ff0000"/>
<rect x="667.5" y="1438" width="22" height="22" fill="#ff0000"/>
<rect x="678.2" y="1416" width="22" height="22" fill="#ff0000"/>
<rect x="687.5" y="1394" width="22" height="22" fill="#ff0000"/>
<rect x="696.4" y="1372" width="22" height="22" fill="#ff0000"/>
<rect x="705.3" y="1350" width="22" height="22" fill="#ff0000"/>
<rect x="717" y="1328" width="22" height="22" fill="#ff0000"/>
<rect x="729.1" y="1306" width="22" height="22" fill="#ff0000"/>
<rect x="738.6" y="1284" width="22" height="22" fill="#ff0000"/>
<rect x="747.9" y="1262" width="22" height="22" fill="#ff0000"/>
<rect x="757.2" y="1240" width="22" height="22" fill="#ff0000"/>
<rect x="766.6" y="1218" width="22" height="22" fill="#ff0000"/>
<rect x="779.1" y="1196" width="22" height="22" fill="#ff0000"/>
<rect x="791.6" y="1174" width="22" height="22" fill="#ff0000"/>
<rect x="803.8" y="1152" width="22" height="22" fill="#ff0000"/>
<rect x="816" y="1130" width="22" height="22" fill="#ff0000"/>
<rect x="827.3" y="1108" width="22" height="22" fill="#ff0000"/>
<rect x="839.2" y="1086" width="22" height="22" fill="#ff0000"/>
<rect x="851.8" y="1064" width="22" height="22" fill="#ff0000"/>
<rect x="863.7" y="1042" width="22" height="22" fill="#ff0000"/>
<rect x="875.1" y="1020" width="22" height="22" fill="#ff0000"/>
<rect x="881.3" y="998" width="22" height="22" fill="#ff0000"/>
<rect x="885.8" y="976" width="22" height="22" fill="#ff0000"/>
<rect x="894.7" y="954" width="22" height="22" fill="#ff0000"/>
<rect x="906.9" y="932" width="22" height="22" fill="#ff0000"/>
<rect x="921.4" y="910" width="22" height="22" fill="#ff0000"/>
<rect x="936.9" y="888" width="22" height="22" fill="#ff0000"/>
<rect x="945.9" y="866" width="22" height="22" fill="#ff0000"/>
<rect x="948.3" y="844" width="22" height="22" fill="#ff0000"/>
<rect x="960.3" y="822" width="22" height="22" fill="#ff0000"/>
<rect x="974.3" y="800" width="22" height="22" fill="#ff0000"/>
<rect x="987" y="778" width="22" height="22" fill="#ff0000"/>
<rect x="990.3" y="756" width="22" height="22" fill="#ff0000"/>
<rect x="998.8" y="734" width="22" height="22" fill="#ff0000"/>
<rect x="1012.7" y="712" width="22" height="22" fill="#ff0000"/>
<rect x="1024.1" y="690" width="22" height="22" fill="#ff0000"/>
<rect x="1035.7" y="668" width="22" height="22" fill="#ff0000"/>
<rect x="1050" y="646" width="22" height="22" fill="#ff0000"/>
<rect x="1058.7" y="624" width="22" height="22" fill="#ff0000"/>
<rect x="1067.2" y="602" width="22" height="22" fill="#ff0000"/>
<rect x="1082.3" y="580" width="22" height="22" fill="#ff0000"/>
<rect x="1085.5" y="558" width="22" height="22" fill="#ff0000"/>
<rect x="1096.8" y="536" width="22" height="22" fill="#ff0000"/>
<rect x="1109.7" y="514" width="22" height="22" fill="#ff0000"/>
<rect x="1113" y="486" width="22" height="22" fill="#ff0000"/>
<rect x="1140.8" y="473.8" width="22" height="22" fill="#ff0000"/>
<rect x="1162.3" y="459.9" width="22" height="22" fill="#ff0000"/>
<rect x="1190.4" y="445.6" width="22" height="22" fill="#ff0000"/>
<rect x="1223.8" y="431.8" width="22" height="22" fill="#ff0000"/>
<rect x="1252" y="421.6" width="22" height="22" fill="#ff0000"/>
<rect x="1287.4" y="407.9" width="22" height="22" fill="#ff0000"/>
<rect x="1316" y="398" width="22" height="22" fill="#ff0000"/>
<rect x="1349.8" y="388.7" width="22" height="22" fill="#ff0000"/>
<rect x="1382.9" y="381.3" width="22" height="22" fill="#ff0000"/>
<rect x="1410.9" y="366.8" width="22" height="22" fill="#ff0000"/>
<rect x="1443" y="357.8" width="22" height="22" fill="#ff0000"/>
<rect x="1476" y="347.6" width="22" height="22" fill="#ff0000"/>
<rect x="1508.9" y="338.7" width="22" height="22" fill="#ff0000"/>
<rect x="1536.9" y="329.6" width="22" height="22" fill="#ff0000"/>
<rect x="1569" y="319.6" width="22" height="22" fill="#ff0000"/>
<rect x="1596.9" y="310.5" width="22" height="22" fill="#ff0000"/>
<rect x="1052" y="1457" width="22" height="22" fill="#ff0000"/>
<rect x="1070.9" y="1420" width="22" height="22" fill="#ff0000"/>
<rect x="1084.9" y="1387.8" width="22" height="22" fill="#ff0000"/>
<rect x="1102.9" y="1350.1" width="22" height="22" fill="#ff0000"/>
<rect x="1116.9" y="1317.7" width="22" height="22" fill="#ff0000"/>
<rect x="1134.9" y="1286" width="22" height="22" fill="#ff0000"/>
<rect x="1153.9" y="1248.2" width="22" height="22" fill="#ff0000"/>
<rect x="1167.1" y="1216.2" width="22" height="22" fill="#ff0000"/>
<rect x="1187" y="1183.9" width="22" height="22" fill="#ff0000"/>
<rect x="1200.9" y="1150.9" width="22" height="22" fill="#ff0000"/>
<rect x="1218.8" y="1113.6" width="22" height="22" fill="#ff0000"/>
<rect x="1237.8" y="1081.7" width="22" height="22" fill="#ff0000"/>
<rect x="1257" y="1043.6" width="22" height="22" fill="#ff0000"/>
<rect x="1270.7" y="1011.8" width="22" height="22" fill="#ff0000"/>
<rect x="1285" y="983.7" width="22" height="22" fill="#ff0000"/>
<rect x="1307.8" y="937.8" width="22" height="22" fill="#ff0000"/>
<rect x="1330.9" y="890.9" width="22" height="22" fill="#ff0000"/>
<rect x="1354.9" y="849.9" width="22" height="22" fill="#ff0000"/>
<rect x="1376.9" y="802.9" width="22" height="22" fill="#ff0000"/>
<rect x="1400.5" y="760.7" width="22" height="22" fill="#ff0000"/>
<rect x="1419.9" y="714.8" width="22" height="22" fill="#ff0000"/>
<rect x="1442.7" y="667.7" width="22" height="22" fill="#ff0000"/>
<rect x="1467" y="621.8" width="22" height="22" fill="#ff0000"/>
<rect x="1489.8" y="579.8" width="22" height="22" fill="#ff0000"/>
<rect x="1512.7" y="534" width="22" height="22" fill="#ff0000"/>
<rect x="1536.9" y="491.6" width="22" height="22" fill="#ff0000"/>
<rect x="1560" y="445.6" width="22" height="22" fill="#ff0000"/>
<rect x="1583" y="405.5" width="22" height="22" fill="#ff0000"/>
<rect x="1599" y="393.6" width="22" height="22" fill="#ff0000"/>
<rect x="1615" y="357.7" width="22" height="22" fill="#ff0000"/>
<rect x="1619" y="330" width="22" height="22" fill="#ff0000"/>
<rect x="1055" y="1455" width="22" height="22" fill="#ff0000"/>
<rect x="1080" y="1410.9" width="22" height="22" fill="#ff0000"/>
<rect x="1130.9" y="1317.7" width="22" height="22" fill="#ff0000"/>
<rect x="1182.7" y="1219.6" width="22" height="22" fill="#ff0000"/>
<rect x="1232.7" y="1117.4" width="22" height="22" fill="#ff0000"/>
<rect x="1288.6" y="1015.8" width="22" height="22" fill="#ff0000"/>
<rect x="1316.8" y="955.9" width="22" height="22" fill="#ff0000"/>
<rect x="1354.9" y="881.7" width="22" height="22" fill="#ff0000"/>
<rect x="1391.8" y="810.8" width="22" height="22" fill="#ff0000"/>
<rect x="1400" y="787.4" width="22" height="22" fill="#ff0000"/>
<rect x="1411.5" y="765.5" width="22" height="22" fill="#ff0000"/>
<rect x="1447.9" y="691.7" width="22" height="22" fill="#ff0000"/>
<rect x="1475.7" y="639.7" width="22" height="22" fill="#ff0000"/>
<rect x="1489.8" y="607.7" width="22" height="22" fill="#ff0000"/>
<rect x="1512.7" y="561.7" width="22" height="22" fill="#ff0000"/>
<rect x="1532" y="516" width="22" height="22" fill="#ff0000"/>
<rect x="1554.9" y="468.6" width="22" height="22" fill="#ff0000"/>
<rect x="1578.8" y="421.5" width="22" height="22" fill="#ff0000"/>
<rect x="1597" y="405.5" width="22" height="22" fill="#ff0000"/>
<rect x="1604" y="371.8" width="22" height="22" fill="#ff0000"/>
<rect x="1625" y="347.6" width="22" height="22" fill="#ff0000"/>
<rect x="1639" y="330" width="22" height="22" fill="#ff0000"/>
<rect x="1639" y="330" width="22" height="22" fill="#ff0000"/>
<rect x="1648" y="315.6" width="22" height="22" fill="#ff0000"/>
<rect x="1662" y="303.7" width="22" height="22" fill="#ff0000"/>
<rect x="1681" y="296.7" width="22" height="22" fill="#ff0000"/>
<rect x="1699" y="287.7" width="22" height="22" fill="#ff0000"/>
<rect x="1718" y="282.5" width="22" height="22" fill="#ff0000"/>
<rect x="1741" y="273.4" width="22" height="22" fill="#ff0000"/>
<rect x="1765" y="269.7" width="22" height="22" fill="#ff0000"/>
<rect x="1793" y="263.8" width="22" height="22" fill="#ff0000"/>
<rect x="1821" y="259.7" width="22" height="22" fill="#ff0000"/>
<rect x="1844" y="255.5" width="22" height="22" fill="#ff0000"/>
<rect x="1872" y="255.5" width="22" height="22" fill="#ff0000"/>
<rect x="1886" y="250.8" width="22" height="22" fill="#ff0000"/>
</g>
<g>
<rect x="607.5" y="112.5" width="762" height="68.5" fill="#fff" stroke="#555" stroke-width="1.6"/>
<rect x="629.5" y="126.5" width="718" height="42" rx="12" fill="#fff" stroke="#222" stroke-width="2.2"/>
<rect x="668" y="144.5" width="244.5" height="60" rx="10" fill="#fff" stroke="#666" stroke-width="2"/>
<rect x="1069.5" y="147.5" width="244" height="60" rx="10" fill="#fff" stroke="#666" stroke-width="2"/>
<rect x="755" y="176.3" width="71" height="7" fill="#000"/>
<rect x="786.4" y="180" width="8" height="164" fill="#000"/>
<rect x="702" y="340.3" width="177" height="7.8" fill="#000"/>
<rect x="1155.2" y="179" width="72" height="7.9" fill="#000"/>
<rect x="1187.2" y="183" width="8" height="164" fill="#000"/>
<rect x="1103.3" y="343.4" width="176" height="7.9" fill="#000"/>
<circle cx="790.6" cy="165.2" r="9.9" fill="#f00"/>
<circle cx="803.3" cy="260.5" r="9.9" fill="#f00"/>
<circle cx="790.6" cy="357.3" r="9.9" fill="#f00"/>
<g class="ser" fill="#222" font-size="35">
<text x="811" y="171.4" textLength="87" lengthAdjust="spacing">Upper</text>
<text x="824" y="271.2" textLength="126" lengthAdjust="spacing">Mid-web</text>
<text x="810.5" y="377.5" textLength="92" lengthAdjust="spacing">Lower</text>
</g>
</g>
<g>
<line x1="1575" y1="1151.6" x2="1689" y2="1151.6" stroke="#008000" stroke-width="4"/>
<line x1="1575" y1="1249.9" x2="1689" y2="1249.9" stroke="#0000ff" stroke-width="4"/>
<line x1="1575" y1="1347.8" x2="1689" y2="1347.8" stroke="#ff0000" stroke-width="4"/>
<path d="M1631.9 1145.3l-8.9 15.9h17.8z" fill="#fff" stroke="#008000" stroke-width="3.6"/>
<rect x="1620.9" y="1240" width="19.8" height="19.2" fill="#fff" stroke="#0000ff" stroke-width="4"/>
<rect x="1618.8" y="1336.2" width="23.9" height="21.6" fill="#ff0000"/>
<g class="ser" fill="#000" font-size="60">
<text x="1700" y="1169.7" textLength="158" lengthAdjust="spacing">Upper</text>
<text x="1700" y="1267.6" textLength="221" lengthAdjust="spacing">Mid-web</text>
<text x="1700" y="1363.5" textLength="158" lengthAdjust="spacing">Lower</text>
</g>
</g>
<g class="ser" fill="#000" font-size="59" text-anchor="end" letter-spacing="-1.2">
<text x="244" y="73.5">2500</text>
<text x="244" y="359.2">2000</text>
<text x="244" y="639.9">1500</text>
<text x="244" y="927.8">1000</text>
<text x="244" y="1211.9">500</text>
<text x="244" y="1493.7">0</text>
</g>
<g class="ser" fill="#000" font-size="59" letter-spacing="-1.2">
<text x="298.7" y="1582" text-anchor="middle">-1000</text>
<text x="758" y="1582" text-anchor="middle">1000</text>
<text x="1206.4" y="1582" text-anchor="middle">3000</text>
<text x="1664.2" y="1582" text-anchor="middle">5000</text>
<text x="2115.3" y="1582" text-anchor="middle">7000</text>
</g>
<text class="sans" x="1213" y="1685.7" font-size="65" letter-spacing="1.2" text-anchor="middle" fill="#000">Strain(&#956;&#949;)</text>
<text class="sans" transform="translate(75.2 760.5) rotate(-90)" font-size="65" letter-spacing="1.2" text-anchor="middle" fill="#000">Load(kN)</text>
<text class="ser" x="731" y="1805.8" font-size="87" textLength="736" lengthAdjust="spacingAndGlyphs" fill="#000">(<tspan font-weight="bold">b</tspan>) Bridge specimen</text>
</svg></body></html>
